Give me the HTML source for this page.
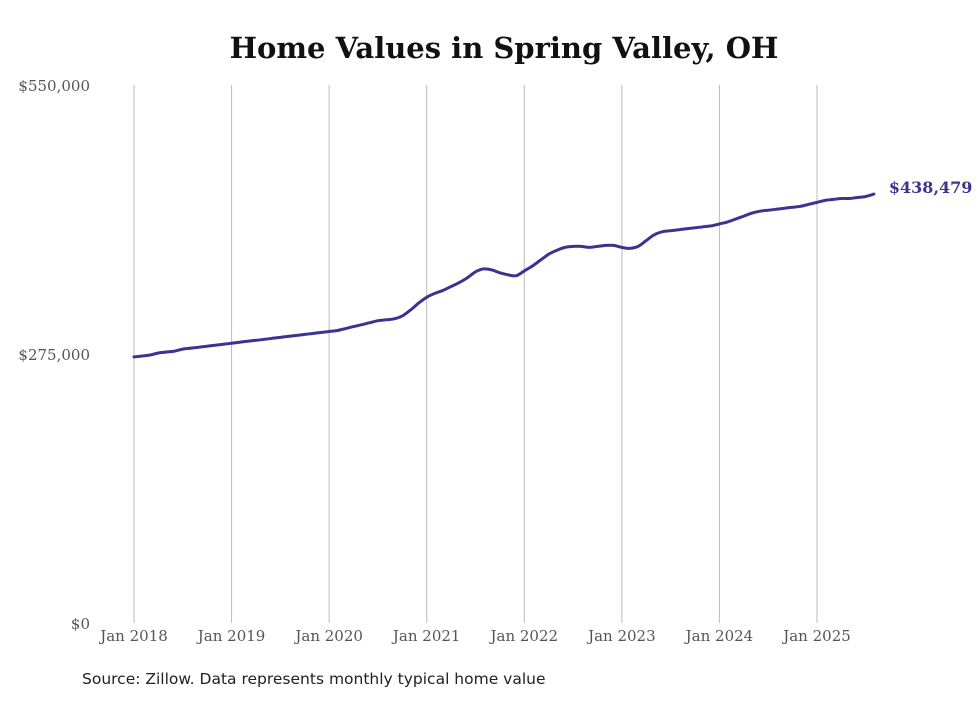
<!DOCTYPE html>
<html><head><meta charset="utf-8"><style>
body{margin:0;background:#fff;width:980px;height:699px;overflow:hidden;font-family:"DejaVu Serif","Liberation Serif",serif}
</style></head><body>
<svg id="chart" width="980" height="699" xmlns="http://www.w3.org/2000/svg">
<text x="504" y="58" text-anchor="middle" font-size="29" font-weight="bold" fill="#111">Home Values in Spring Valley, OH</text>
<g id="grid"></g><g id="yaxis"></g><g id="xaxis"></g><g id="series"></g>
<text x="82" y="684" font-size="15.5" fill="#222" font-family="DejaVu Sans, sans-serif">Source: Zillow. Data represents monthly typical home value</text>
</svg>
<script>
const yTicks=[0,275000,550000];
const yTickLabels=["$0","$275,000","$550,000"];
const xTickYears=[2018,2019,2020,2021,2022,2023,2024,2025];
const xTickLabels=["Jan 2018","Jan 2019","Jan 2020","Jan 2021","Jan 2022","Jan 2023","Jan 2024","Jan 2025"];
const values=[
272,273,274,276,277,278,280,281,282,283,284,285,
286,287,288,289,290,291,292,293,294,295,296,297,
298,299,301,303,305,307,309,310,311,314,320,327,
333,337,340,344,348,353,359,362,361,358,356,355,
360,365,371,377,381,384,385,385,384,385,386,386,
384,383,385,391,397,400,401,402,403,404,405,406,
408,410,413,416,419,421,422,423,424,425,426,428,
430,432,433,434,434,435,436,438.479];
const lastLabel="$438,479";
const NS="http://www.w3.org/2000/svg";
function yS(v){return 623-v/550000*538;}
function xS(m){return 134+m*(817-134)/84;}
function mk(t,a,p){const e=document.createElementNS(NS,t);for(const k in a)e.setAttribute(k,a[k]);p.appendChild(e);return e;}
const grid=document.getElementById('grid'),ya=document.getElementById('yaxis'),xa=document.getElementById('xaxis'),se=document.getElementById('series');
yTicks.forEach((v,i)=>{
const t=mk('text',{x:90,y:yS(v)+6,'text-anchor':'end','font-size':15,fill:'#555'},ya);
t.textContent=yTickLabels[i];


});
xTickYears.forEach((yr,i)=>{
const x=xS((yr-2018)*12);
const l=mk('line',{x1:x,x2:x,y1:85,y2:623,stroke:'#bbb','stroke-width':1},grid);


const t=mk('text',{x:x,y:641,'text-anchor':'middle','font-size':15,fill:'#555'},xa);
t.textContent=xTickLabels[i];


});
const pts=values.map((v,i)=>[xS(i),yS(v*1000)]);
let d='M'+pts[0][0].toFixed(1)+','+pts[0][1].toFixed(1);
for(let i=0;i<pts.length-1;i++){
const p0=pts[Math.max(0,i-1)],p1=pts[i],p2=pts[i+1],p3=pts[Math.min(pts.length-1,i+2)];
const c1=[p1[0]+(p2[0]-p0[0])/6,p1[1]+(p2[1]-p0[1])/6],c2=[p2[0]-(p3[0]-p1[0])/6,p2[1]-(p3[1]-p1[1])/6];
d+='C'+c1[0].toFixed(1)+','+c1[1].toFixed(1)+' '+c2[0].toFixed(1)+','+c2[1].toFixed(1)+' '+p2[0].toFixed(1)+','+p2[1].toFixed(1);
}
const p=mk('path',{d:d,fill:'none',stroke:'#3a3490','stroke-width':3,'stroke-linejoin':'round','stroke-linecap':'round'},se);


const li=values.length-1;
const lt=mk('text',{x:xS(li)+15,y:yS(values[li]*1000)-1,'font-size':16,'font-weight':'bold',fill:'#3a3490'},se);
lt.textContent=lastLabel;


</script>
</body></html>
